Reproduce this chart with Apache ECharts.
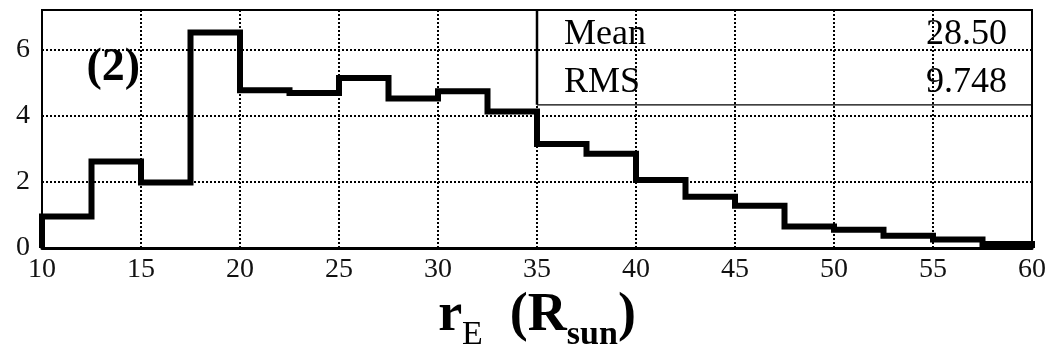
<!DOCTYPE html>
<html>
<head>
<meta charset="utf-8">
<script src="https://cdn.jsdelivr.net/npm/echarts@6/dist/echarts.min.js"></script>
<style>
  html, body { margin: 0; padding: 0; background: #fff; }
  #chart { width: 1056px; height: 352px; }
</style>
</head>
<body>
<div id="chart"></div>
<script>
// bin edges (r_E in R_sun) and counts per bin
const binEdges = [10, 12.5, 15, 17.5, 20, 22.5, 25, 27.5, 30, 32.5, 35,
  37.5, 40, 42.5, 45, 47.5, 50, 52.5, 55, 57.5, 60];
const counts = [0.95, 2.62, 1.98, 6.52, 4.77, 4.69, 5.14, 4.52, 4.74, 4.13,
  3.15, 2.85, 2.06, 1.55, 1.28, 0.65, 0.55, 0.37, 0.26, 0.12];
const xTicks = [10, 15, 20, 25, 30, 35, 40, 45, 50, 55, 60];
const yTicks = [0, 2, 4, 6];
const statsLabels = ['Mean', 'RMS'];
const statsValues = ['28.50', '9.748'];
const panelLabel = '(2)';

const serif = '"Liberation Serif", "DejaVu Serif", serif';
const yMax = 7.2;
// stats box corner (data coords)
const boxLeft = 35;
const boxBottom = 4.33;

// step data: start at 0, one point per bin, then drop back to 0
const stepData = [[binEdges[0], 0]];
counts.forEach((c, i) => stepData.push([binEdges[i], c]));
stepData.push([binEdges[binEdges.length - 1], counts[counts.length - 1]]);
stepData.push([binEdges[binEdges.length - 1], 0]);

const dotted = { color: '#000', width: 2, type: [2, 2] };

const chart = echarts.init(document.getElementById('chart'));
chart.setOption({
  animation: false,
  backgroundColor: '#fff',
  grid: {
    left: 42, right: 24, top: 10, bottom: 104,
    outerBoundsMode: 'none',
    containLabel: false,
    show: true, borderColor: '#000', borderWidth: 2,
  },
  xAxis: {
    type: 'value',
    min: xTicks[0],
    max: xTicks[xTicks.length - 1],
    interval: xTicks[1] - xTicks[0],
    axisLine: { show: true, lineStyle: { color: '#000', width: 3 } },
    axisTick: { show: false },
    splitLine: { show: true, lineStyle: dotted },
    axisLabel: { color: '#111', fontFamily: serif, fontSize: 28, margin: 8 },
    name: '{b|r}{e|E}{b|  (R}{s|sun}{b|)}',
    nameLocation: 'middle',
    nameGap: 30,
    nameTextStyle: {
      rich: {
        b: { fontFamily: serif, fontWeight: 'bold', fontSize: 54, color: '#000' },
        e: { fontFamily: serif, fontSize: 34, color: '#000', padding: [38, 0, 0, 0] },
        s: { fontFamily: serif, fontWeight: 'bold', fontSize: 34, color: '#000', padding: [38, 0, 0, 0] },
      },
    },
  },
  yAxis: {
    type: 'value',
    min: yTicks[0],
    max: yMax,
    interval: yTicks[1] - yTicks[0],
    axisLine: { show: true, lineStyle: { color: '#000', width: 2 } },
    axisTick: { show: false },
    splitLine: { show: true, lineStyle: dotted },
    axisLabel: {
      color: '#111', fontFamily: serif, fontSize: 28, margin: 12,
      showMaxLabel: false,
    },
  },
  series: [
    {
      type: 'line',
      step: 'end',
      data: stepData,
      showSymbol: false,
      lineStyle: { color: '#000', width: 6, join: 'miter' },
      z: 5,
    },
    {
      // stats box left edge
      type: 'line',
      data: [[boxLeft, yMax], [boxLeft, boxBottom]],
      showSymbol: false,
      lineStyle: { color: '#000', width: 2.5 },
      z: 6,
    },
    {
      // stats box bottom edge
      type: 'line',
      data: [[boxLeft, boxBottom], [xTicks[xTicks.length - 1], boxBottom]],
      showSymbol: false,
      lineStyle: { color: '#000', width: 1.2 },
      z: 6,
    },
  ],
});

// text annotations placed from data coordinates
const p0 = chart.convertToPixel({ gridIndex: 0 }, [boxLeft, yMax]);
const p1 = chart.convertToPixel({ gridIndex: 0 }, [xTicks[xTicks.length - 1], boxBottom]);
const rowH = (p1[1] - p0[1]) / statsLabels.length;
const graphics = [];
statsLabels.forEach((lab, i) => {
  const cy = p0[1] + rowH * (i + 0.5) + 1;
  graphics.push({
    type: 'text', x: p0[0] + 27, y: cy, z: 10,
    style: {
      text: lab, font: `36px ${serif}`, fill: '#000',
      align: 'left', verticalAlign: 'middle',
    },
  });
  graphics.push({
    type: 'text', x: p1[0] - 25, y: cy, z: 10,
    style: {
      text: statsValues[i], font: `36px ${serif}`, fill: '#000',
      align: 'right', verticalAlign: 'middle',
    },
  });
});
const pl = chart.convertToPixel({ gridIndex: 0 }, [13.6, 5.45]);
graphics.push({
  type: 'text', x: pl[0], y: pl[1], z: 10,
  style: {
    text: panelLabel, font: `bold 46px ${serif}`, fill: '#000',
    align: 'center', verticalAlign: 'middle',
  },
});
chart.setOption({ graphic: graphics });
</script>
</body>
</html>
